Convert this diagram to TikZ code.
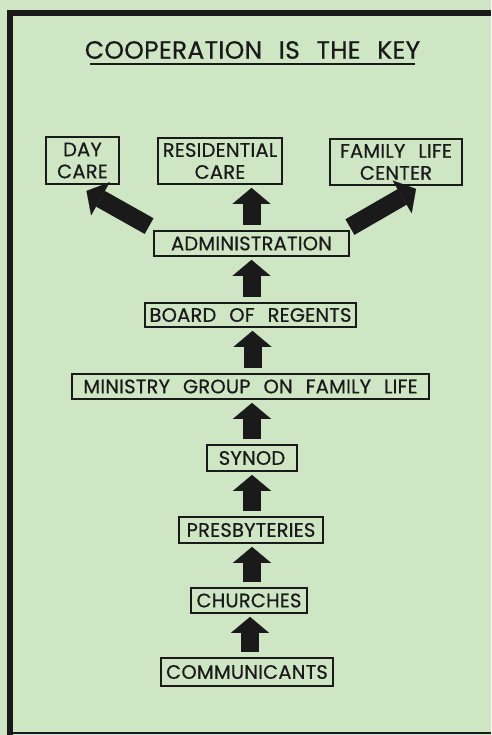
\documentclass[tikz,border=0pt]{standalone}
\usepackage{fontspec}
\setmainfont{Poppins}[LetterSpace=1, WordSpace=2.4, FakeBold=0.6]
\usetikzlibrary{arrows.meta}
\definecolor{paper}{RGB}{206,230,196}
\definecolor{ink}{RGB}{26,26,26}

\begin{document}
\begin{tikzpicture}[x=1pt, y=-1pt,
  unit/.style={draw=ink, line width=1.8pt, inner sep=0pt, align=center,
    font=\fontsize{19.5}{22}\selectfont, text=ink},
  push/.style={draw=ink, line width=18pt,
    -{Triangle[length=16pt, width=38pt, line width=0.1pt]},
    shorten <=5pt, shorten >=3pt}]
  \fill[paper] (0,0) rectangle (491,735);
  \useasboundingbox (0,0) rectangle (491,735);
  % frame
  \draw[ink, line width=6pt] (10,735) -- (10,13) -- (491,13);
  \draw[ink, line width=2pt] (10,733) -- (491,733);

  % title
  \node[font=\fontsize{25}{28}\selectfont, text=ink] (title) at (252.5,50) {COOPERATION IS THE KEY};
  \draw[ink, line width=1.8pt] (90,64) -- (415,64);

  % services
  \node[unit, minimum width=73pt, minimum height=47pt] (day) at (82.5,160.5) {DAY\\CARE};
  \node[unit, minimum width=124pt, minimum height=46pt] (res) at (220,161) {RESIDENTIAL\\CARE};
  \node[unit, minimum width=132pt, minimum height=46pt] (flc) at (396,162) {FAMILY LIFE\\CENTER};

  % chain
  \node[unit, minimum width=195pt, minimum height=25pt] (adm) at (251.5,243.5) {ADMINISTRATION};
  \node[unit, minimum width=211pt, minimum height=24pt] (bor) at (250.5,315) {BOARD OF REGENTS};
  \node[unit, minimum width=357pt, minimum height=25pt] (min) at (250.5,386.5) {MINISTRY GROUP ON FAMILY LIFE};
  \node[unit, minimum width=90pt, minimum height=26pt] (syn) at (252,458) {SYNOD};
  \node[unit, minimum width=144pt, minimum height=26pt] (pre) at (251,530) {PRESBYTERIES};
  \node[unit, minimum width=116pt, minimum height=25pt] (chu) at (249,600.5) {CHURCHES};
  \node[unit, minimum width=172pt, minimum height=28pt] (com) at (247,672) {COMMUNICANTS};

  % arrows
  \draw[push] ([xshift=3pt]com.north) -- ([xshift=3pt]com.north |- chu.south);
  \draw[push] ([xshift=3pt]chu.north) -- ([xshift=3pt]chu.north |- pre.south);
  \draw[push] ([xshift=1pt]pre.north) -- ([xshift=1pt]pre.north |- syn.south);
  \draw[push] (syn.north) -- (syn.north |- min.south);
  \draw[push] ([xshift=2pt]min.north) -- ([xshift=2pt]min.north |- bor.south);
  \draw[push] ([xshift=1pt]bor.north) -- ([xshift=1pt]bor.north |- adm.south);
  \draw[push] (adm.north) -- (adm.north |- res.south);
  \draw[push, shorten <=0pt, shorten >=0pt] ([xshift=-4pt, yshift=4pt]adm.north west) -- ([xshift=4pt, yshift=-6pt]day.south);
  \draw[push, shorten <=0pt, shorten >=0pt] ([yshift=3pt]adm.north east) -- ([xshift=20pt, yshift=-3pt]flc.south);
\end{tikzpicture}
\end{document}
